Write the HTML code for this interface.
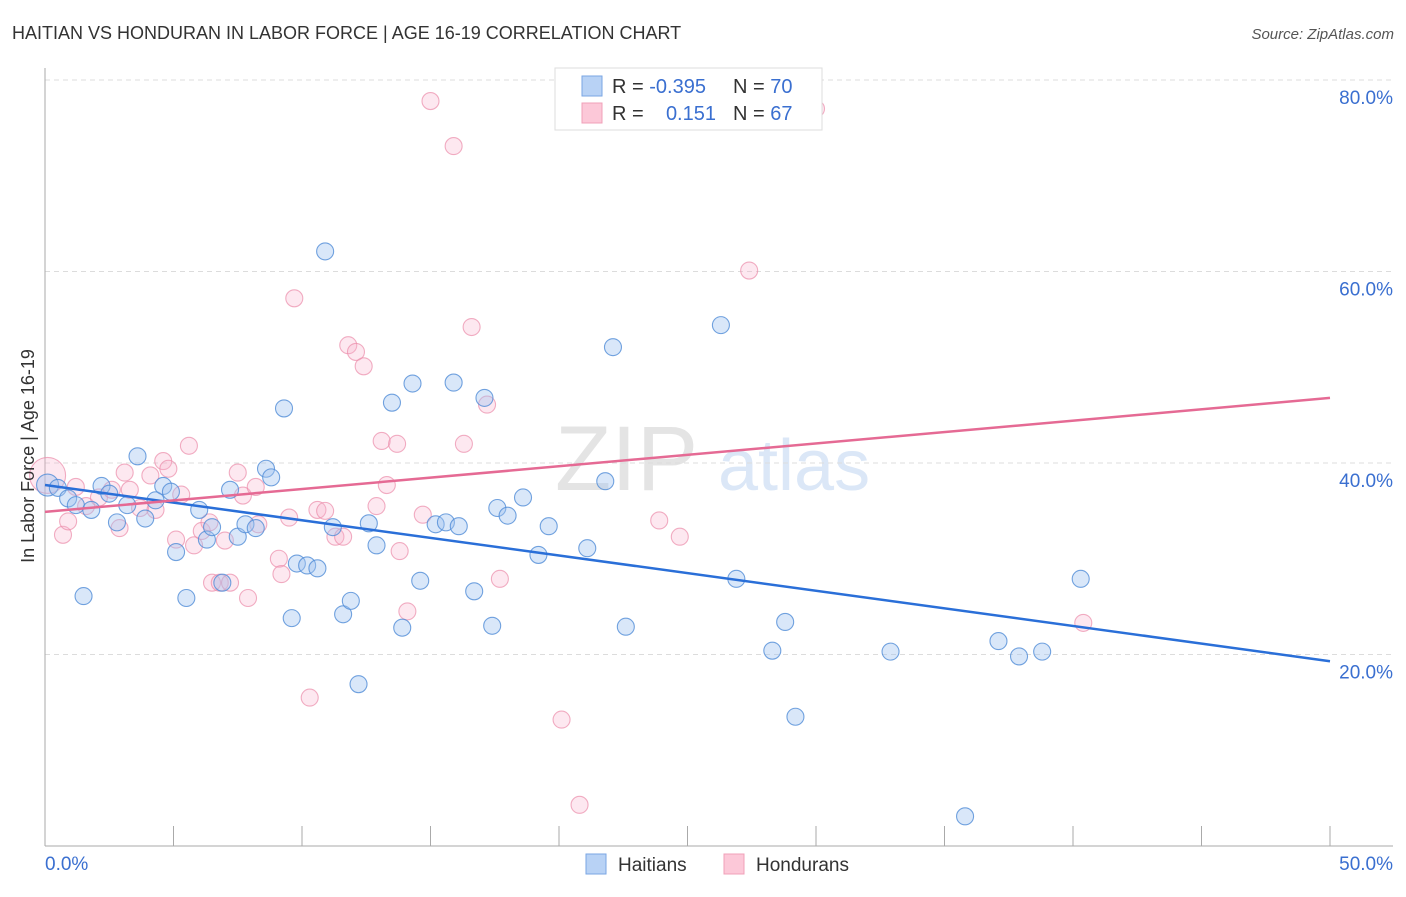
<!DOCTYPE html>
<html><head><meta charset="utf-8"><style>
body{margin:0;background:#fff;font-family:"Liberation Sans",sans-serif}
svg text{font-family:"Liberation Sans",sans-serif}
</style></head><body>
<svg id="chart" width="1406" height="892" xmlns="http://www.w3.org/2000/svg">
<text x="12" y="39" font-size="18" fill="#333">HAITIAN VS HONDURAN IN LABOR FORCE | AGE 16-19 CORRELATION CHART</text>
<text x="1394" y="39" font-size="15" fill="#555" text-anchor="end" font-style="italic">Source: ZipAtlas.com</text>
<text x="555" y="490" font-size="92" fill="#e4e4e4" font-family="Liberation Serif">ZIP</text>
<text x="718" y="490" font-size="72" fill="#dbe7f7">atlas</text>
<g id="grid"></g>
<g id="marks"></g>
<text transform="translate(34,456) rotate(-90)" font-size="18" fill="#333" text-anchor="middle">In Labor Force | Age 16-19</text>
<g>
<rect x="555" y="68" width="267" height="62" fill="#fff" stroke="#ddd"/>
<rect x="582" y="76" width="20" height="20" fill="#b8d2f5" stroke="#7aa6e3"/>
<rect x="582" y="103" width="20" height="20" fill="#fcc8d8" stroke="#f0a0b8"/>
<text x="612" y="93" font-size="20" fill="#333">R = <tspan fill="#3a6fd0">-0.395</tspan></text>
<text x="733" y="93" font-size="20" fill="#333">N = <tspan fill="#3a6fd0">70</tspan></text>
<text x="612" y="120" font-size="20" fill="#333">R =</text>
<text x="716" y="120" font-size="20" fill="#3a6fd0" text-anchor="end">0.151</text>
<text x="733" y="120" font-size="20" fill="#333">N = <tspan fill="#3a6fd0">67</tspan></text>
</g>
<g>
<rect x="586" y="854" width="20" height="20" fill="#b8d2f5" stroke="#7aa6e3"/>
<text x="618" y="871" font-size="19" fill="#333">Haitians</text>
<rect x="724" y="854" width="20" height="20" fill="#fcc8d8" stroke="#f0a0b8"/>
<text x="756" y="871" font-size="19" fill="#333">Hondurans</text>
</g>
</svg>
<script>
const yTicks=[20,40,60,80];
const xTickVals=[0,5,10,15,20,25,30,35,40,45,50];
const blueX=[0.1,0.5,0.9,1.2,1.5,1.8,2.2,2.5,2.8,3.2,3.6,3.9,4.3,4.6,4.9,5.1,5.5,6.0,6.3,6.5,6.9,7.2,7.5,7.8,8.2,8.6,8.8,9.3,9.6,9.8,10.2,10.6,10.9,11.2,11.6,11.9,12.2,12.6,12.9,13.5,13.9,14.3,14.6,15.2,15.6,15.9,16.1,16.7,17.1,17.4,17.6,18.0,18.6,19.2,19.6,21.1,21.8,22.1,22.6,26.3,26.9,28.3,28.8,29.2,32.9,35.8,37.1,37.9,38.8,40.3];
const blueY=[37.7,37.4,36.3,35.6,26.1,35.1,37.6,36.8,33.8,35.6,40.7,34.2,36.1,37.6,37.0,30.7,25.9,35.1,32.0,33.3,27.5,37.2,32.3,33.6,33.2,39.4,38.5,45.7,23.8,29.5,29.3,29.0,62.1,33.3,24.2,25.6,16.9,33.7,31.4,46.3,22.8,48.3,27.7,33.6,33.8,48.4,33.4,26.6,46.8,23.0,35.3,34.5,36.4,30.4,33.4,31.1,38.1,52.1,22.9,54.4,27.9,20.4,23.4,13.5,20.3,3.1,21.4,19.8,20.3,27.9];
const pinkX=[0.1,0.7,0.9,1.2,1.6,2.1,2.6,2.9,3.1,3.3,3.7,4.1,4.3,4.6,4.8,5.1,5.3,5.6,5.8,6.1,6.4,6.5,6.8,7.0,7.2,7.5,7.7,7.9,8.2,8.3,9.1,9.2,9.5,9.7,10.3,10.6,10.9,11.3,11.6,11.8,12.1,12.4,12.9,13.1,13.3,13.7,13.8,14.1,14.7,15.0,15.9,16.3,16.6,17.2,17.7,20.1,20.8,23.9,24.7,27.4,30.0,40.4];
const pinkY=[38.7,32.5,33.9,37.5,35.5,36.4,37.2,33.2,39.0,37.2,35.3,38.7,35.1,40.2,39.4,32.0,36.7,41.8,31.4,32.9,33.8,27.5,27.5,31.9,27.5,39.0,36.6,25.9,37.5,33.6,30.0,28.4,34.3,57.2,15.5,35.1,35.0,32.3,32.3,52.3,51.6,50.1,35.5,42.3,37.7,42.0,30.8,24.5,34.6,77.8,73.1,42.0,54.2,46.1,27.9,13.2,4.3,34.0,32.3,60.1,77.0,23.3];
const blueTrend=[37.7,19.3];
const pinkTrend=[34.9,46.8];
const NS='http://www.w3.org/2000/svg';
const X=v=>45+v*25.7, Y=v=>846-v*9.575;
const grid=document.getElementById('grid'), marks=document.getElementById('marks');
function mk(tag,attrs,parent){const e=document.createElementNS(NS,tag);for(const k in attrs)e.setAttribute(k,attrs[k]);parent.appendChild(e);return e;}
yTicks.forEach(t=>{
 const l=mk('line',{x1:45,x2:1393,y1:Y(t),y2:Y(t),stroke:'#dcdcdc','stroke-dasharray':'5,4'},grid);
 
 
 const tx=mk('text',{x:1393,y:Y(t)+24,'font-size':19,fill:'#3a6fd0','text-anchor':'end'},grid);
 tx.textContent=t.toFixed(1)+'%';
 
 
});
const ax=mk('line',{x1:45,x2:45,y1:68,y2:846,stroke:'#aaa'},grid);


const bx=mk('line',{x1:45,x2:1393,y1:846,y2:846,stroke:'#aaa'},grid);


xTickVals.forEach(t=>{
 const l=mk('line',{x1:X(t),x2:X(t),y1:826,y2:846,stroke:'#aaa'},grid);
 
 
});
[[0,'start',45],[50,'end',1393]].forEach(([t,a,px])=>{
 const tx=mk('text',{x:px,y:870,'font-size':19,fill:'#3a6fd0','text-anchor':a},grid);
 tx.textContent=t.toFixed(1)+'%';
 
 
});
function dots(xs,ys,fill,stroke,name,big){
 xs.forEach((x,i)=>{
  const c=mk('circle',{cx:X(x),cy:Y(ys[i]),r:(i===0?big:8.5),fill:fill,stroke:stroke,'stroke-width':1.1},marks);
  
  
 });
}
dots(pinkX,pinkY,'rgba(248,180,205,0.3)','rgba(235,140,170,0.7)','honduran-point',18);
dots(blueX,blueY,'rgba(160,195,240,0.4)','rgba(80,140,215,0.8)','haitian-point',11);
const bl=mk('line',{x1:X(0),y1:Y(blueTrend[0]),x2:X(50),y2:Y(blueTrend[1]),stroke:'#2a6fd8','stroke-width':2.5},marks);


const pl=mk('line',{x1:X(0),y1:Y(pinkTrend[0]),x2:X(50),y2:Y(pinkTrend[1]),stroke:'#e56a94','stroke-width':2.5},marks);


</script>
</body></html>
